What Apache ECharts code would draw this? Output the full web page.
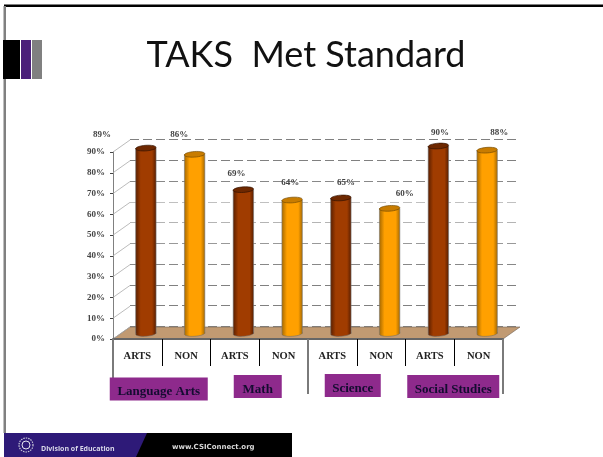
<!DOCTYPE html>
<html>
<head>
<meta charset="utf-8">
<style>html,body{margin:0;padding:0;background:#fff}#c{width:603px;height:457px}</style>
<script src="https://cdn.jsdelivr.net/npm/echarts@6/dist/echarts.min.js"></script>
</head>
<body>
<div id="c"></div>
<script>
const titleText = 'TAKS  Met Standard';
const categories = ['ARTS','NON','ARTS','NON','ARTS','NON','ARTS','NON'];
const groups = ['Language Arts','Math','Science','Social Studies'];
const values = [89,86,69,64,65,60,90,88];
const valueTicks = [0,10,20,30,40,50,60,70,80,90];
const footerLeft = 'Division of Education';
const footerRight = 'www.CSIConnect.org';

// layout only
const DEPTH = [17, -12];
const labelNudge = [[-44,-13],[-15.5,-20],[-7,-16],[-2,-17],[5,-15],[15,-15],[1.5,-13],[12,-17]];
const groupNudge = [[-3,50],[-1.5,47.5],[-4,46.5],[-1,47.5]];
const groupBox = [[98,23],[48,23],[56,23],[92,23]];
const serif = '"Liberation Serif","Times New Roman",serif';
const palette = [
  {mid:'#a03c00',edge:'#5a1f00',top:'#6e2800',line:'#2a0e00'},
  {mid:'#ffa000',edge:'#a86a00',top:'#c87c00',line:'#6a4500'}
];

function renderFloor(params, api){
  const c = params.coordSys, bottom = c.y + c.height;
  return {type:'polygon', silent:true,
    shape:{points:[[c.x,bottom],[c.x+DEPTH[0],bottom+DEPTH[1]],[c.x+c.width+DEPTH[0],bottom+DEPTH[1]],[c.x+c.width,bottom]]},
    style:{fill:'#c19a72',stroke:'#6f6255',lineWidth:0.6}};
}
function renderDiagonal(params, api){
  const p = api.coord([0, api.value(1)]);
  const x = params.coordSys.x;
  return {type:'line', silent:true,
    shape:{x1:x,y1:p[1],x2:x+DEPTH[0],y2:p[1]+DEPTH[1]},
    style:{stroke:'#aaa',lineWidth:0.8}};
}
function renderBar(params, api){
  const i = params.dataIndex, pal = palette[i % 2];
  const top = api.coord([api.value(0), api.value(1)]);
  const base = api.coord([api.value(0), 0]);
  const cx = top[0] + DEPTH[0]/2, ty = top[1] + DEPTH[1]/2, by = base[1] + DEPTH[1]/2 + 0.5;
  const rx = 10.2, ry = 2.8, tilt = 0.07;
  const grad = {type:'linear',x:0,y:0,x2:1,y2:0,colorStops:[
    {offset:0,color:pal.edge},{offset:0.25,color:pal.mid},{offset:0.8,color:pal.mid},{offset:1,color:pal.edge}]};
  const nudge = labelNudge[i];
  return {type:'group', children:[
    {type:'ellipse',x:cx,y:by,rotation:tilt,shape:{cx:0,cy:0,rx:rx,ry:ry},style:{fill:grad,stroke:'#6a6a6a',lineWidth:0.5}},
    {type:'rect',shape:{x:cx-rx,y:ty,width:rx*2,height:by-ty},style:{fill:grad}},
    {type:'line',shape:{x1:cx-rx,y1:ty,x2:cx-rx,y2:by},style:{stroke:'#777',lineWidth:0.6}},
    {type:'line',shape:{x1:cx+rx,y1:ty,x2:cx+rx,y2:by},style:{stroke:'#777',lineWidth:0.6}},
    {type:'ellipse',x:cx,y:ty,rotation:tilt,shape:{cx:0,cy:0,rx:rx,ry:ry},style:{fill:pal.top,stroke:pal.line,lineWidth:0.6}},
    {type:'text',x:cx+nudge[0],y:ty+nudge[1],style:{text:api.value(1)+'%',align:'center',verticalAlign:'middle',
      font:'bold 9px '+serif,fill:'#444'}}
  ]};
}
function renderGroup(params, api){
  const i = params.dataIndex, p = api.coord([i, 0]);
  const n = groupNudge[i], b = groupBox[i];
  const cx = p[0]+n[0], cy = p[1]+n[1];
  return {type:'group', children:[
    {type:'rect',shape:{x:cx-b[0]/2,y:cy-b[1]/2,width:b[0],height:b[1]},style:{fill:'#8e2a8c'}},
    {type:'text',x:cx,y:cy+3,style:{text:groups[i],align:'center',verticalAlign:'middle',
      font:'bold 13px '+serif,fill:'#140c30'}}
  ]};
}

const chart = echarts.init(document.getElementById('c'), null, {renderer:'canvas'});
chart.setOption({
  animation:false,
  backgroundColor:'#fff',
  grid:[
    {left:113,right:100,top:152,bottom:118},
    {left:130,right:84,top:139.5,bottom:130.5}
  ],
  xAxis:[
    {type:'category',gridIndex:0,data:categories,position:'bottom',z:1,
      axisLine:{show:true,lineStyle:{color:'#666',width:2}},
      axisTick:{show:true,alignWithLabel:false,length:27,lineStyle:{color:'#000',width:1}},
      axisLabel:{interval:0,margin:12,fontFamily:serif,fontWeight:'bold',fontSize:10.5,color:'#222'}},
    {type:'category',gridIndex:0,data:groups,position:'bottom',z:2,
      axisLine:{show:false},
      axisTick:{show:true,alignWithLabel:false,length:55,lineStyle:{color:'#7a7a7a',width:2}},
      axisLabel:{show:false}},
    {type:'category',gridIndex:1,data:categories,show:false}
  ],
  yAxis:[
    {type:'value',gridIndex:0,min:0,max:90,interval:10,
      axisLine:{show:true,lineStyle:{color:'#808080',width:1}},
      axisTick:{show:true,length:3,lineStyle:{color:'#444'}},
      axisLabel:{margin:8,padding:[2,0,0,0],formatter:'{value}%',fontFamily:serif,fontWeight:'bold',fontSize:9,color:'#444'},
      splitLine:{show:false}},
    {type:'value',gridIndex:1,min:0,max:90,interval:10,
      axisLine:{show:false},axisTick:{show:false},axisLabel:{show:false},
      splitLine:{show:true,lineStyle:{type:[9,4],width:1,
        color:['#888','#808080','#808080','#888','#999','#b4b4b4','#c0c0c0','#888','#808080','#808080']}}}
  ],
  series:[
    {type:'custom',name:'floor',xAxisIndex:0,yAxisIndex:0,z:1,clip:false,silent:true,data:[[0,0]],renderItem:renderFloor},
    {type:'custom',name:'depth',xAxisIndex:0,yAxisIndex:0,z:1,clip:false,silent:true,
      data:valueTicks.map(v=>[0,v]),renderItem:renderDiagonal},
    {type:'custom',name:'TAKS',xAxisIndex:0,yAxisIndex:0,z:3,clip:false,
      data:values.map((v,i)=>[i,v]),encode:{x:0,y:1},renderItem:renderBar},
    {type:'custom',name:'groups',xAxisIndex:1,yAxisIndex:0,z:4,clip:false,
      data:groups.map((g,i)=>[i,0]),renderItem:renderGroup}
  ],
  graphic:[
    {type:'rect',shape:{x:4,y:4.5,width:599,height:2.5},style:{fill:'#000'},z:10},
    {type:'rect',shape:{x:3.5,y:6,width:2.5,height:427},style:{fill:'#808080'},z:10},
    {type:'rect',shape:{x:3,y:40,width:17,height:39},style:{fill:'#000'},z:10},
    {type:'rect',shape:{x:21,y:40,width:10,height:39},style:{fill:'#4b1f7a'},z:10},
    {type:'rect',shape:{x:32,y:40,width:10,height:39},style:{fill:'#808080'},z:10},
    {type:'text',x:306,y:55,style:{text:titleText,align:'center',verticalAlign:'middle',font:'36px Lato, "Open Sans", sans-serif',fill:'#111'},z:10},
    {type:'rect',shape:{x:4,y:433,width:288,height:24},style:{fill:'#000'},z:10},
    {type:'polygon',shape:{points:[[4,433],[147,433],[136,457],[4,457]]},style:{fill:'#2e1a78'},z:11},
    {type:'circle',shape:{cx:26,cy:445,r:7},style:{fill:'#2e1a78',stroke:'#c9c9d9',lineWidth:1.2,lineDash:[1.5,1]},z:12},
    {type:'circle',shape:{cx:26,cy:445,r:4},style:{fill:'#2e1a78',stroke:'#e4e4ee',lineWidth:1},z:12},
    {type:'text',x:41,y:448.5,style:{text:footerLeft,align:'left',verticalAlign:'middle',font:'bold 7px "Open Sans", sans-serif',fill:'#d8d8e8'},z:12},
    {type:'text',x:172,y:447.5,style:{text:footerRight,align:'left',verticalAlign:'middle',font:'bold 7px "DejaVu Sans", sans-serif',fill:'#d8d8d8'},z:12}
  ]
});
</script>
</body>
</html>
